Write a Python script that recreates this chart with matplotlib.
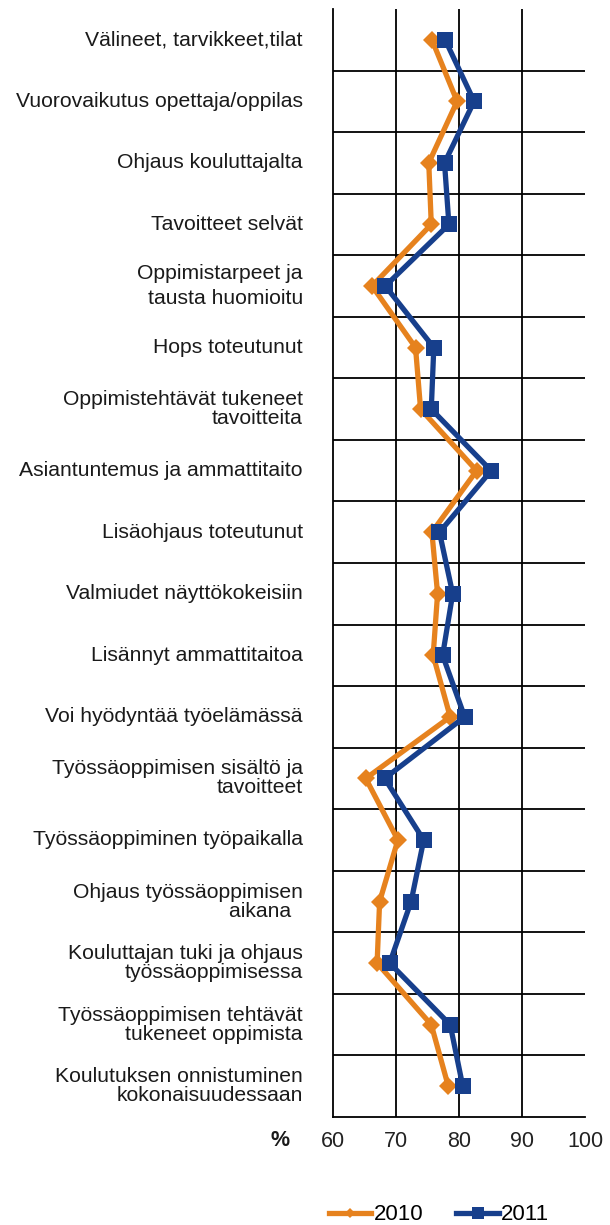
import matplotlib
matplotlib.use("Agg")
import matplotlib.pyplot as plt
from matplotlib.lines import Line2D
import numpy as np

plt.rcParams['font.family'] = ['Liberation Sans', 'DejaVu Sans']

categories = [
    "Välineet, tarvikkeet,tilat",
    "Vuorovaikutus opettaja/oppilas",
    "Ohjaus kouluttajalta",
    "Tavoitteet selvät",
    "Oppimistarpeet ja\ntausta huomioitu",
    "Hops toteutunut",
    "Oppimistehtävät tukeneet\ntavoitteita",
    "Asiantuntemus ja ammattitaito",
    "Lisäohjaus toteutunut",
    "Valmiudet näyttökokeisiin",
    "Lisännyt ammattitaitoa",
    "Voi hyödyntää työelämässä",
    "Työssäoppimisen sisältö ja\ntavoitteet",
    "Työssäoppiminen työpaikalla",
    "Ohjaus työssäoppimisen\naikana  ",
    "Kouluttajan tuki ja ohjaus\ntyössäoppimisessa",
    "Työssäoppimisen tehtävät\ntukeneet oppimista",
    "Koulutuksen onnistuminen\nkokonaisuudessaan",
]
values_2010 = [75.7, 79.7, 75.2, 75.6, 66.2, 73.1, 73.9, 82.8, 75.7, 76.6,
               75.9, 78.6, 65.2, 70.3, 67.4, 67.0, 75.6, 78.3]
values_2011 = [77.8, 82.4, 77.7, 78.4, 68.3, 76.0, 75.6, 85.1, 76.9, 79.0,
               77.4, 80.9, 68.2, 74.4, 72.4, 69.0, 78.6, 80.6]
series_labels = ["2010", "2011"]
x_ticks = [60, 70, 80, 90, 100]

orange = '#E6821E'
blue = '#173F8C'

fig = plt.figure(figsize=(6.10, 12.25), dpi=100)
ax = fig.add_axes([333/610, 1 - 1117/1225, (585-333)/610, (1117-9)/1225])

n = len(categories)
y = np.arange(n) + 0.5

ax.plot(values_2010, y, color=orange, lw=3.8, marker='D', markersize=9,
        markeredgewidth=0, zorder=3)
ax.plot(values_2011, y, color=blue, lw=3.8, marker='s', markersize=12,
        markeredgewidth=0, zorder=4)

ax.set_xlim(60, 100)
ax.set_ylim(n, 0)
ax.set_xticks(x_ticks)
ax.set_xticklabels([str(t) for t in x_ticks], fontsize=15.5, color='#222222')
ax.tick_params(axis='x', length=0, pad=10)
ax.set_yticks([])

# grid
for xv in x_ticks[1:-1]:
    ax.axvline(xv, color='black', lw=1.3, zorder=1)
for yv in range(1, n):
    ax.axhline(yv, color='black', lw=1.3, zorder=1)

for s in ['top', 'right']:
    ax.spines[s].set_visible(False)
ax.spines['left'].set_linewidth(1.3)
ax.spines['bottom'].set_linewidth(1.3)

for yi, lab in zip(y, categories):
    ls = 1.45 if lab.startswith("Oppimistarpeet") else 1.0
    ax.text(-0.12, yi, lab, transform=ax.get_yaxis_transform(),
            ha='right', va='center', fontsize=15.2, color='#1a1a1a',
            linespacing=ls, multialignment='right')

fig.text(280/610, 1 - 1141/1225, '%', ha='center', va='center',
         fontsize=15.5, fontweight='bold', color='#1a1a1a')

handles = [
    Line2D([], [], color=orange, lw=3.8, marker='D', markersize=5, markeredgewidth=0),
    Line2D([], [], color=blue, lw=3.8, marker='s', markersize=8, markeredgewidth=0),
]
fig.legend(handles, series_labels, loc='center', bbox_to_anchor=(439/610, 1 - 1215/1225),
           ncol=2, frameon=False, fontsize=16, handlelength=1.9, handletextpad=0.1,
           columnspacing=1.5, markerscale=1, borderpad=0)

fig.savefig('out.png', dpi=100)
